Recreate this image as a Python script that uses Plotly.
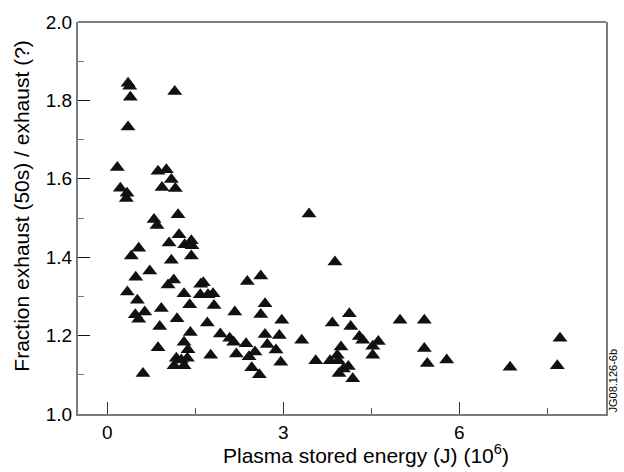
import plotly.graph_objects as go

# Plasma stored energy (J) (10^6)
energy = [
    0.353, 0.382, 0.392, 1.149, 0.353, 0.170, 0.864, 1.006, 1.091, 0.222,
    0.336, 0.324, 0.932, 1.159, 1.205, 0.796, 0.847, 1.222, 1.052, 1.319,
    1.432, 1.444, 0.535, 0.409, 1.091, 1.432, 0.723, 0.484, 1.132, 1.035,
    1.592, 1.636, 0.341, 0.511, 1.307, 1.585, 1.716, 1.802, 1.404, 1.819,
    0.920, 0.637, 0.477, 0.535, 2.172, 1.188, 1.704, 0.893, 1.415, 1.926,
    2.086, 2.154, 1.307, 0.864, 1.375, 1.762, 2.199, 1.176, 1.261, 1.364,
    1.137, 1.307, 0.608, 3.438, 3.880, 2.386, 2.615, 2.688, 2.615, 2.973,
    2.688, 2.932, 2.364, 2.727, 3.313, 2.517, 2.875, 2.415, 2.956, 2.461,
    2.591, 3.835, 4.125, 4.149, 4.989, 4.295, 4.353, 4.619, 4.524, 4.524,
    3.983, 3.552, 3.796, 3.920, 3.937, 4.108, 4.022, 3.949, 4.183, 5.403,
    5.403, 5.454, 5.785, 6.864, 7.716, 7.670,
]

# Fraction exhaust (50s) / exhaust
fraction = [
    1.844, 1.836, 1.808, 1.823, 1.732, 1.629, 1.619, 1.623, 1.598, 1.576,
    1.563, 1.550, 1.578, 1.575, 1.508, 1.496, 1.481, 1.457, 1.436, 1.432,
    1.442, 1.429, 1.423, 1.403, 1.392, 1.403, 1.365, 1.349, 1.342, 1.329,
    1.331, 1.335, 1.311, 1.290, 1.307, 1.304, 1.304, 1.307, 1.279, 1.277,
    1.269, 1.260, 1.253, 1.242, 1.260, 1.243, 1.232, 1.223, 1.208, 1.204,
    1.193, 1.183, 1.183, 1.169, 1.164, 1.150, 1.153, 1.142, 1.138, 1.142,
    1.123, 1.123, 1.103, 1.510, 1.388, 1.338, 1.352, 1.281, 1.254, 1.239,
    1.203, 1.200, 1.179, 1.177, 1.188, 1.158, 1.163, 1.146, 1.132, 1.118,
    1.100, 1.232, 1.256, 1.223, 1.239, 1.198, 1.188, 1.185, 1.173, 1.150,
    1.171, 1.136, 1.136, 1.150, 1.136, 1.121, 1.115, 1.103, 1.090, 1.239,
    1.167, 1.129, 1.138, 1.119, 1.193, 1.123,
]

x_tick_vals = [0, 3, 6]
x_tick_text = ["0", "3", "6"]
y_tick_vals = [1.0, 1.2, 1.4, 1.6, 1.8, 2.0]
y_tick_text = ["1.0", "1.2", "1.4", "1.6", "1.8", "2.0"]

FONT = "Liberation Sans, Arial, Helvetica, sans-serif"

fig = go.Figure()
fig.add_trace(go.Scatter(
    x=energy, y=fraction, mode="markers",
    marker=dict(symbol="triangle-up", size=13, color="#111111", line=dict(width=0)),
    showlegend=False, hoverinfo="skip",
))

fig.update_layout(
    width=624, height=472,
    margin=dict(l=78, r=18, t=15, b=58),
    paper_bgcolor="white", plot_bgcolor="white",
    font=dict(family=FONT, size=19, color="black"),
    xaxis=dict(
        range=[-0.5, 8.5], showgrid=False, zeroline=False,
        showline=True, linecolor="#7a7a7a", linewidth=2,
        ticks="inside", ticklen=12, tickwidth=1, tickcolor="#333333",
        tickvals=x_tick_vals, ticktext=x_tick_text,
        minor=dict(dtick=1.5, tick0=0, ticks="inside", ticklen=6, tickcolor="#555555", showgrid=False),
        tickfont=dict(size=19),
    ),
    yaxis=dict(
        range=[1.0, 2.0], showgrid=False, zeroline=False,
        showline=True, linecolor="#7a7a7a", linewidth=2, mirror=True,
        ticks="inside", ticklen=12, tickwidth=1, tickcolor="#111111",
        tickvals=y_tick_vals, ticktext=y_tick_text,
        minor=dict(dtick=0.1, tick0=1.0, ticks="inside", ticklen=6, tickcolor="#777777", showgrid=False),
        tickfont=dict(size=19),
    ),
    shapes=[dict(type="line", xref="paper", yref="paper", x0=0, x1=1, y0=1, y1=1,
                 line=dict(color="black", width=1.2))],
    annotations=[
        dict(text="Plasma stored energy (J) (10<sup>6</sup>)", xref="paper", yref="paper",
             x=0.545, y=-0.103, xanchor="center", yanchor="middle", showarrow=False,
             font=dict(size=21)),
        dict(text="Fraction exhaust (50s) / exhaust (?)", xref="paper", yref="paper",
             x=-0.106, y=0.529, xanchor="center", yanchor="middle", textangle=-90,
             showarrow=False, font=dict(size=21)),
        dict(text="JG08.126-6b", xref="paper", yref="paper",
             x=1.013, y=0.085, xanchor="center", yanchor="middle", textangle=-90,
             showarrow=False, font=dict(size=11)),
    ],
)

fig.write_html(
    "out.html",
    config={"displayModeBar": False},
    post_script="document.body.style.margin='0';document.body.style.padding='0';document.body.style.overflow='hidden';",
)
